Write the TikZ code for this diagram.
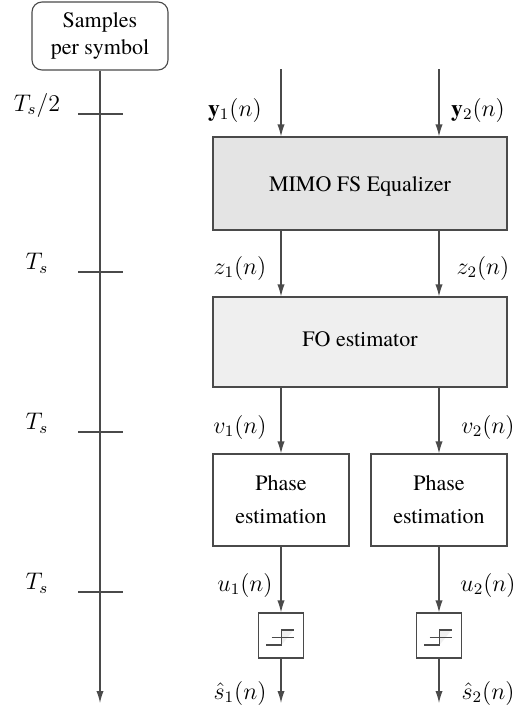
\documentclass[tikz,border=0pt]{standalone}
\usepackage{amsmath,bm}
\usepackage{fontspec}
\setmainfont{TeX Gyre Termes}
\usepackage{tikz}
\usetikzlibrary{calc, positioning, arrows.meta}

\definecolor{LineGray}{HTML}{4A4A4A}
\definecolor{EqFill}{HTML}{E4E4E4}
\definecolor{FoFill}{HTML}{EFEFEF}

\begin{document}
\begin{tikzpicture}[x=0.5pt, y=-0.5pt,
    font=\rmfamily\fontsize{11}{13}\selectfont,
    line/.style={draw=LineGray, line width=0.55pt},
    sig/.style={line, -{Latex[length=6pt, width=3.6pt]}},
    block/.style={line, rectangle, inner sep=0pt, align=center},
    lab/.style={inner sep=0pt, font=\fontsize{11.8}{13}\selectfont},
  ]
    \useasboundingbox (0,0) rectangle (528,707);

    % time axis
    \node (samples) [block, rounded corners=5pt, minimum width=68pt, minimum height=34pt]
      at (100,36) {Samples\\[0.5pt]per symbol};
    \coordinate (axisend) at (100,703);
    \draw[sig] (samples.south) -- (axisend);
    \foreach \y/\lab in {114/{T_s/2}, 272/{T_s}, 432/{T_s}, 592/{T_s}} {
      \draw[line] (78,\y) -- (123,\y);
      \node[lab] at (37,\y-9) {$\lab$};
    }

    % blocks
    \node (eq) [block, fill=EqFill, minimum width=147pt, minimum height=46.5pt] at (360,183.5) {};
    \node at ($(eq)+(0,3)$) {MIMO FS Equalizer};
    \node (fo) [block, fill=FoFill, minimum width=147pt, minimum height=45pt] at (360,342) {};
    \node at ($(fo)+(0,-3)$) {FO estimator};
    \node (ph1) [block, minimum width=68pt, minimum height=46pt] at (281,500) {Phase\\[3.5pt]estimation};
    \node (ph2) [block, minimum width=68pt, minimum height=46pt] at (439,500) {Phase\\[3.5pt]estimation};
    \node (dec1) [block, fill=white, minimum size=22.5pt] at (281,635.5) {};
    \node (dec2) [block, fill=white, minimum size=22.5pt] at (439,635.5) {};

    % decision symbols
    \foreach \d in {dec1, dec2} {
      \fill[gray!12] ($(\d)+(0.5,9.5)$) -- ($(\d)+(0.5,-5.5)$) -- ($(\d)+(12.5,-5.5)$) -- cycle;
      \draw[line] ($(\d)+(-15,9.5)$) -- ($(\d)+(0.5,9.5)$) -- ($(\d)+(0.5,-5.5)$) -- ($(\d)+(12.5,-5.5)$);
      \draw[line, line width=0.4pt] ($(\d)+(-9.5,1.5)$) -- ($(\d)+(12.5,1.5)$);
    }

    % inputs and outputs
    \coordinate (in1) at (281,69);
    \coordinate (in2) at (439,69);
    \coordinate (out1) at (281,703);
    \coordinate (out2) at (439,703);

    % signal paths
    \draw[sig] (in1) -- (in1 |- eq.north);
    \draw[sig] (in2) -- (in2 |- eq.north);
    \draw[sig] (eq.south -| in1) -- (fo.north -| in1);
    \draw[sig] (eq.south -| in2) -- (fo.north -| in2);
    \draw[sig] (fo.south -| ph1) -- (ph1.north);
    \draw[sig] (fo.south -| ph2) -- (ph2.north);
    \draw[sig] (ph1.south) -- (dec1.north);
    \draw[sig] (ph2.south) -- (dec2.north);
    \draw[sig] (dec1.south) -- (out1);
    \draw[sig] (dec2.south) -- (out2);

    % signal labels
    \node (y1) [lab] at (235,110) {$\mathbf{y}_1(n)$};
    \node (y2) [lab] at (478,110) {$\mathbf{y}_2(n)$};
    \node (z1) [lab] at (240,268) {$z_1(n)$};
    \node (z2) [lab] at (483,268) {$z_2(n)$};
    \node (v1) [lab] at (240,427) {$v_1(n)$};
    \node (v2) [lab] at (488,427) {$v_2(n)$};
    \node (u1) [lab] at (245,585) {$u_1(n)$};
    \node (u2) [lab] at (488,585) {$u_2(n)$};
    \node (s1) [lab] at (240,693) {$\hat{s}_1(n)$};
    \node (s2) [lab] at (488,693) {$\hat{s}_2(n)$};
\end{tikzpicture}
\end{document}
